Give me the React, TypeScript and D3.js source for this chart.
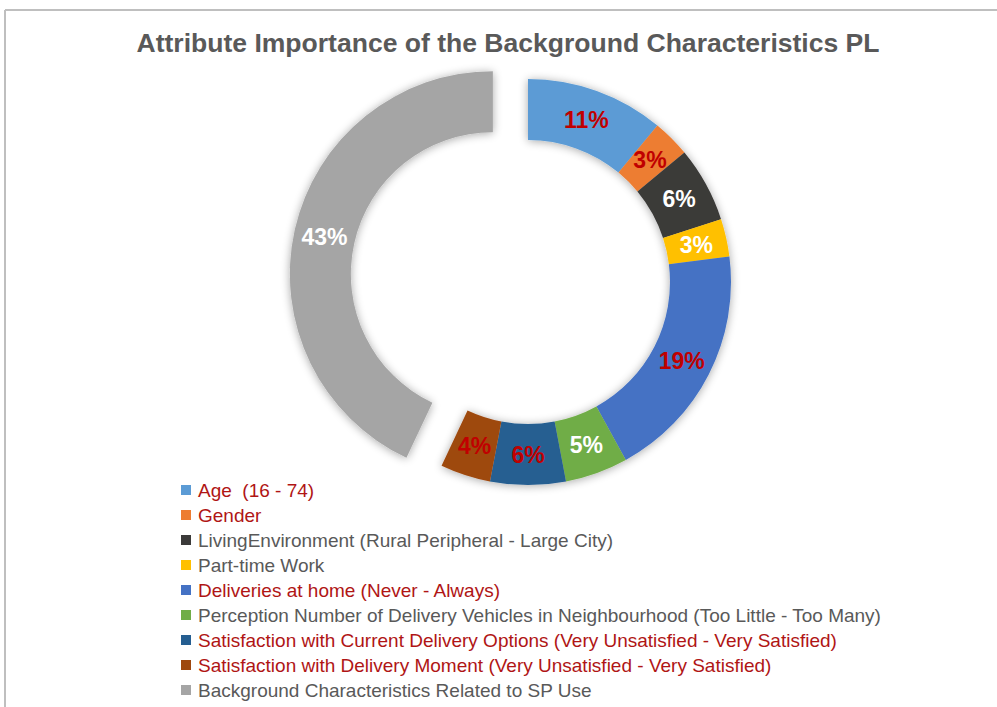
import React from "react";
import * as d3 from "d3";

const categories = [
  "Age  (16 - 74)",
  "Gender",
  "LivingEnvironment (Rural Peripheral - Large City)",
  "Part-time Work",
  "Deliveries at home (Never - Always)",
  "Perception Number of Delivery Vehicles in Neighbourhood (Too Little - Too Many)",
  "Satisfaction with Current Delivery Options (Very Unsatisfied - Very Satisfied)",
  "Satisfaction with Delivery Moment (Very Unsatisfied - Very Satisfied)",
  "Background Characteristics Related to SP Use",
];
const values = [11, 3, 6, 3, 19, 5, 6, 4, 43];
const colors = ["#5B9BD5", "#ED7D31", "#3B3A39", "#FFC000", "#4472C4", "#70AD47", "#255E91", "#9E480E", "#A5A5A5"];
const labelColors = ["#C00000", "#C00000", "#FFFFFF", "#FFFFFF", "#C00000", "#FFFFFF", "#C00000", "#C00000", "#FFFFFF"];
const legendColors = ["#B01515", "#B01515", "#595959", "#595959", "#B01515", "#595959", "#B01515", "#B01515", "#595959"];
const explode = [0, 0, 0, 0, 0, 0, 0, 0, 36];
const title = "Attribute Importance of the Background Characteristics PL";

export default function App() {
  const W = 997, H = 707;
  const cx = 528, cy = 282, R = 203, r = 142;
  const pie = d3.pie<number>().sort(null).value((d) => d)(values);
  const arc = d3.arc<d3.PieArcDatum<number>>().innerRadius(r).outerRadius(R);
  const labelArc = d3.arc<d3.PieArcDatum<number>>().innerRadius((r + R) / 2).outerRadius((r + R) / 2);
  const total = d3.sum(values);
  const fmt = d3.format(".0%");
  const legendY = d3.scaleLinear().domain([0, 1]).range([490, 515]);

  return (
    <svg width={W} height={H} style={{ position: "absolute", left: 0, top: 0 }}>
      <defs>
        <filter id="sh" x="-20%" y="-20%" width="140%" height="140%">
          <feGaussianBlur in="SourceAlpha" stdDeviation="5" />
          <feOffset dx="0" dy="1" />
          <feComponentTransfer>
            <feFuncA type="linear" slope="0.35" />
          </feComponentTransfer>
          <feMerge>
            <feMergeNode />
            <feMergeNode in="SourceGraphic" />
          </feMerge>
        </filter>
      </defs>
      <rect x={0} y={0} width={W} height={H} fill="#fff" />
      <line x1={5} y1={10} x2={W} y2={10} stroke="#BFBFBF" strokeWidth={2} />
      <line x1={5} y1={10} x2={5} y2={H} stroke="#BFBFBF" strokeWidth={2} />
      <text x={508} y={52} textAnchor="middle" fontFamily="Liberation Sans, Arial, sans-serif" fontWeight="bold"
        fontSize={25} fill="#595959" textLength={743} lengthAdjust="spacingAndGlyphs">{title}</text>
      <g transform={`translate(${cx},${cy})`} filter="url(#sh)">
        {pie.map((p, i) => {
          const mid = (p.startAngle + p.endAngle) / 2;
          const dx = Math.sin(mid) * explode[i];
          const dy = -Math.cos(mid) * explode[i];
          return (
            <path key={i} d={arc(p) || ""} fill={colors[i]} transform={`translate(${dx},${dy})`} />
          );
        })}
      </g>
      <g transform={`translate(${cx},${cy})`}>
        {pie.map((p, i) => {
          const mid = (p.startAngle + p.endAngle) / 2;
          const dx = Math.sin(mid) * explode[i];
          const dy = -Math.cos(mid) * explode[i];
          const [lx, ly] = labelArc.centroid(p);
          return (
            <text key={i} x={lx + dx} y={ly + dy} dy="0.36em" textAnchor="middle"
              fontFamily="Liberation Sans, Arial, sans-serif" fontWeight="bold" fontSize={23}
              fill={labelColors[i]}>{fmt(p.value / total)}</text>
          );
        })}
      </g>
      <g>
        {categories.map((c, i) => (
          <g key={i} transform={`translate(0,${legendY(i)})`}>
            <rect x={181} y={-5} width={10} height={10} fill={colors[i]} />
            <text x={198} y={0} dy="0.36em" fontFamily="Liberation Sans, Arial, sans-serif" fontSize={19}
              fill={legendColors[i]} style={{ whiteSpace: "pre" }}>{c}</text>
          </g>
        ))}
      </g>
    </svg>
  );
}
